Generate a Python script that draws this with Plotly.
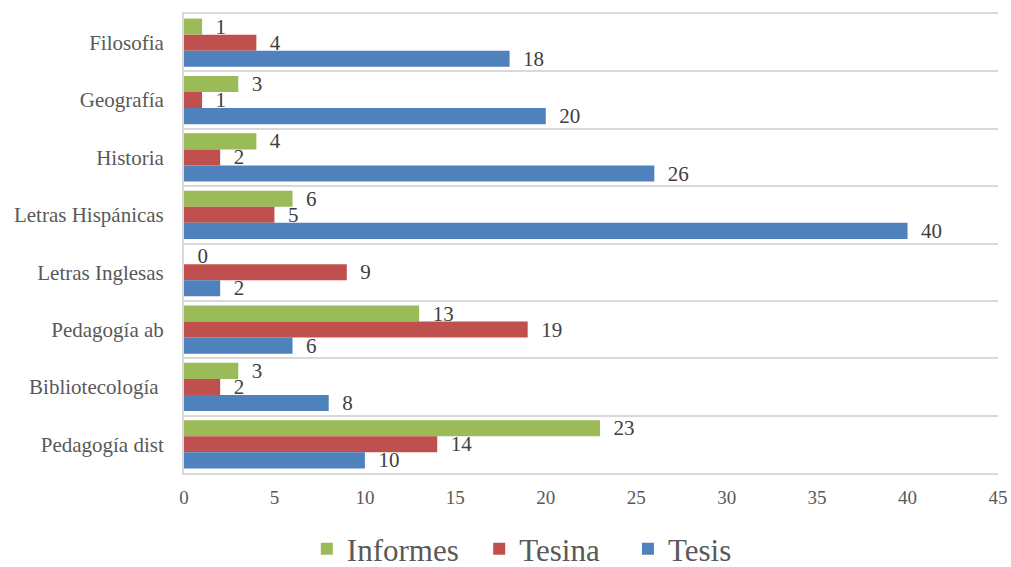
import plotly.graph_objects as go

categories = ["Filosofia", "Geografía", "Historia", "Letras Hispánicas", "Letras Inglesas",
              "Pedagogía ab", "Bibliotecología ", "Pedagogía dist"]
informes = [1, 3, 4, 6, 0, 13, 3, 23]
tesina = [4, 1, 2, 5, 9, 19, 2, 14]
tesis = [18, 20, 26, 40, 2, 6, 8, 10]

series = [("Informes", informes, "#9BBB59", "  "),
          ("Tesina", tesina, "#C0504D", "   "),
          ("Tesis", tesis, "#4F81BD", "")]

FONT = "Liberation Serif, Times New Roman, serif"
fig = go.Figure()
for name, vals, color, pad in series:
    fig.add_trace(go.Bar(
        y=categories, x=vals, name=name + pad, orientation="h",
        marker=dict(color=color, line=dict(width=0)),
        text=[str(v) for v in vals], textposition="outside",
        texttemplate="  %{text}",
        constraintext="none",
        textfont=dict(family=FONT, size=21, color="#404040"),
        cliponaxis=False,
    ))

fig.update_layout(
    width=1011, height=567,
    barmode="group", bargap=0.16, bargroupgap=0,
    paper_bgcolor="white", plot_bgcolor="white",
    margin=dict(l=184, r=13, t=14, b=94, autoexpand=False),
    font=dict(family=FONT, color="#595959"),
    legend=dict(orientation="h", x=0.415, xanchor="center", y=-0.166, yanchor="middle",
                font=dict(family=FONT, size=31, color="#595959"),
                traceorder="normal", itemsizing="constant"),
)
fig.update_xaxes(range=[0, 45], dtick=5, showgrid=False, zeroline=False,
                 automargin=False,
                 tickfont=dict(family=FONT, size=19, color="#595959"),
                 ticks="", ticklabelstandoff=6,
                 showline=True, mirror=True, linecolor="#D9D9D9", linewidth=2)
fig.update_yaxes(autorange="reversed", type="category", tickson="boundaries",
                 automargin=False,
                 showgrid=True, gridcolor="#D9D9D9", gridwidth=2,
                 showline=True, linecolor="#D9D9D9", linewidth=2,
                 ticks="", ticklabelstandoff=14,
                 tickfont=dict(family=FONT, size=21, color="#595959"))
fig.write_html("out.html", config={"displayModeBar": False},
               post_script="document.body.style.margin='0';document.body.style.padding='0';")
